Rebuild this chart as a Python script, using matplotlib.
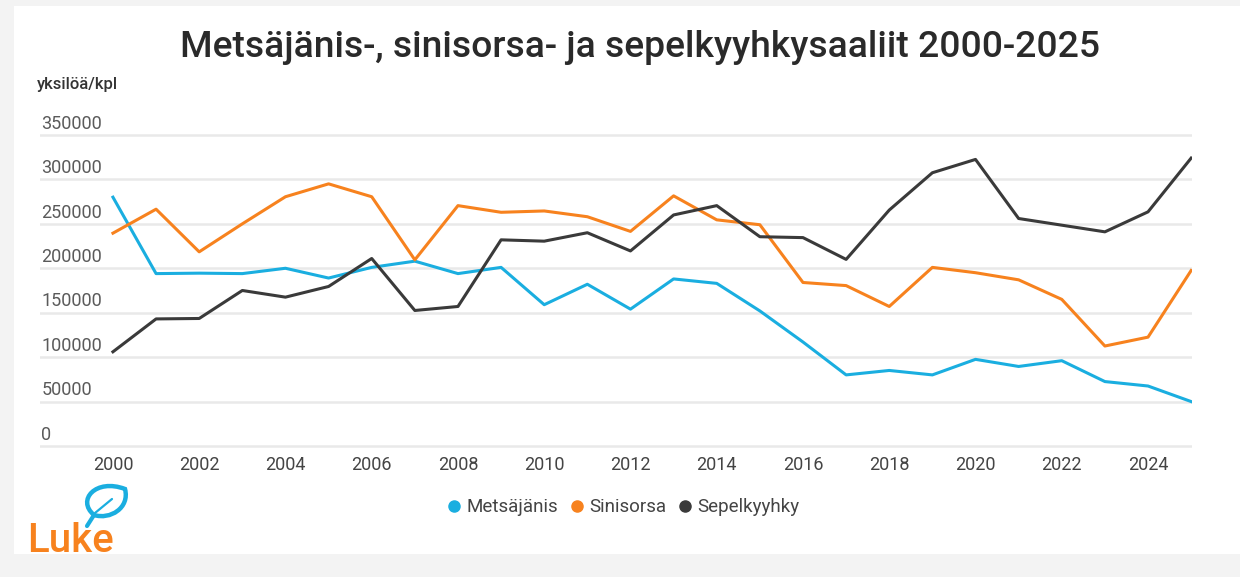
import numpy as np
import matplotlib
matplotlib.use("Agg")
import matplotlib.pyplot as plt
from matplotlib.lines import Line2D
from matplotlib.patches import Rectangle, PathPatch
from matplotlib.path import Path

plt.rcParams['font.family'] = ['Roboto', 'DejaVu Sans']

# data
years = list(range(2000, 2026))
metsajanis = [280000, 194000, 194500, 194000, 200000, 189000, 201000, 208000, 194000, 201000,
              159000, 182000, 154000, 188000, 183000, 152000, 117000, 80000, 85000, 80000,
              97500, 89500, 96000, 72500, 67500, 50000]
sinisorsa = [239500, 266500, 218500, 250000, 280500, 295000, 280500, 209500, 270500, 263000,
             264500, 258000, 241500, 281500, 254500, 249000, 184000, 180500, 157000, 201000,
             195000, 187000, 165000, 112500, 122500, 197500]
sepelkyyhky = [106000, 143000, 143500, 175000, 167500, 179500, 211000, 152500, 157000, 232000,
               230500, 240000, 219500, 260000, 270500, 235500, 234500, 210000, 265500, 307500,
               322500, 256000, 248500, 241000, 263500, 324000]
series = ["Metsäjänis", "Sinisorsa", "Sepelkyyhky"]
colors = ["#1aaee0", "#f7821e", "#3a3a3a"]
yticks = [0, 50000, 100000, 150000, 200000, 250000, 300000, 350000]
xticks = list(range(2000, 2025, 2))

fig = plt.figure(figsize=(12.4, 5.77), dpi=100, facecolor="#f3f3f3")

# white card behind the chart, pixel coordinates
bg = fig.add_axes([0, 0, 1, 1])
bg.set_xlim(0, 1240)
bg.set_ylim(577, 0)
bg.axis("off")
bg.add_patch(Rectangle((14, 6), 1226, 548, facecolor="white", edgecolor="none"))

# Luke logo
bg.text(27, 552, "Luke", color="#f7821e", fontsize=29, fontweight="medium",
        ha="left", va="baseline")
leaf = Path([(94, 515), (76, 500), (96, 478), (125, 489),
             (130, 508), (110, 520), (94, 515)],
            [Path.MOVETO, Path.CURVE4, Path.CURVE4, Path.CURVE4,
             Path.CURVE4, Path.CURVE4, Path.CURVE4])
bg.add_patch(PathPatch(leaf, facecolor="none", edgecolor="#1aaee0", lw=3.2))
bg.plot([94, 87], [515, 526], color="#1aaee0", lw=3, solid_capstyle="round")
bg.plot([95, 112], [513, 499], color="#1aaee0", lw=1.6, solid_capstyle="round")

ax = fig.add_axes([0.0323, 0.2209, 0.929, 0.5544])
for vals, name, c in zip([metsajanis, sinisorsa, sepelkyyhky], series, colors):
    ax.plot(years, vals, color=c, lw=2.2, label=name)

ax.set_xlim(1998.31, 2025.02)
ax.set_ylim(-4000, 356000)
ax.set_yticks(yticks)
ax.set_yticklabels([])
ax.tick_params(axis="y", length=0)
ax.grid(axis="y", color="#e9e9e9", lw=1.8)
ax.set_axisbelow(True)
for t in yticks:
    ax.text(0.001, t + 2500, str(t), transform=ax.get_yaxis_transform(),
            ha="left", va="bottom", fontsize=13, color="#5a5a5a")
ax.set_xticks(xticks)
ax.set_xticklabels([str(x) for x in xticks], fontsize=13, color="#444444")
ax.tick_params(axis="x", length=0, pad=5)
for s in ax.spines.values():
    s.set_visible(False)

fig.text(0.516, 0.901, "Metsäjänis-, sinisorsa- ja sepelkyyhkysaaliit 2000-2025",
         ha="center", va="baseline", fontsize=26.8, fontweight="medium", color="#2a2a2a")
fig.text(0.030, 0.854, "yksilöä/kpl", ha="left", va="center", fontsize=12,
         fontweight="medium", color="#333333")

handles = [Line2D([], [], marker="o", ls="none", color=c, markersize=8) for c in colors]
fig.legend(handles, series, loc="center", bbox_to_anchor=(0.501, 0.121), ncol=3,
           frameon=False, fontsize=13.5, handletextpad=0.05, columnspacing=0.4,
           handlelength=1.2, labelcolor="#444444")

fig.savefig("out.png", dpi=100, facecolor=fig.get_facecolor())
